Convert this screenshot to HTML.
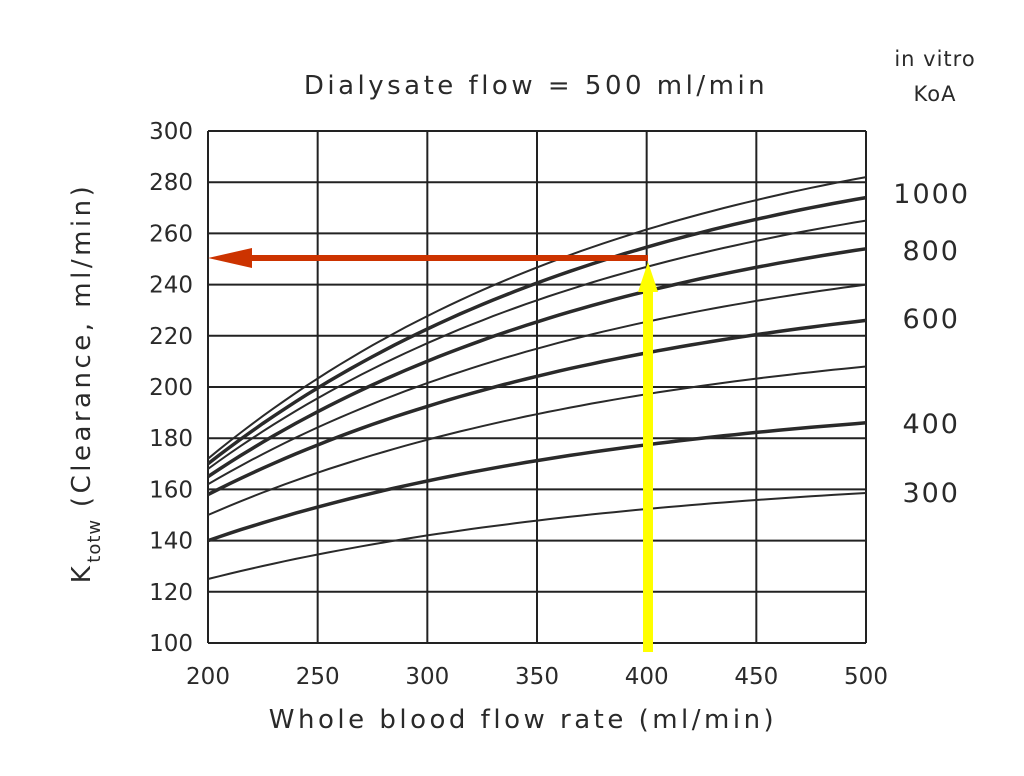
<!DOCTYPE html>
<html><head><meta charset="utf-8"><style>
html,body{margin:0;padding:0;background:#fff;}
svg text{font-family:"DejaVu Sans","Liberation Sans",sans-serif;fill:#2a2a2a;}
</style></head><body>
<svg id="s" width="1024" height="771" xmlns="http://www.w3.org/2000/svg">
<rect width="1024" height="771" fill="#fff"/>
<g id="grid" stroke="#222" stroke-width="2" fill="none"></g>
<g id="curves" stroke="#2a2a2a" fill="none"></g>
<g font-size="23" text-anchor="end" id="yl"></g>
<g font-size="23" text-anchor="middle" id="xl"></g>
<text x="536" y="94" font-size="26" text-anchor="middle" letter-spacing="3.5">Dialysate flow = 500 ml/min</text>
<text x="935" y="66" font-size="21" text-anchor="middle" letter-spacing="1">in vitro</text>
<text x="935" y="101" font-size="21" text-anchor="middle" letter-spacing="1">KoA</text>
<g font-size="27" text-anchor="end" letter-spacing="2">
<text x="970" y="203">1000</text>
<text x="960" y="260">800</text>
<text x="960" y="328">600</text>
<text x="960" y="433">400</text>
<text x="960" y="502">300</text>
</g>
<text x="523" y="728" font-size="26" text-anchor="middle" letter-spacing="3.5">Whole blood flow rate (ml/min)</text>
<g transform="translate(90,383) rotate(-90)">
<text x="0" y="0" font-size="26" text-anchor="middle" letter-spacing="3.5">K<tspan font-size="18" dy="10" letter-spacing="1">totw</tspan><tspan dy="-10"> (Clearance, ml/min)</tspan></text>
</g>
<line x1="648" y1="258" x2="236" y2="258" stroke="#cc3300" stroke-width="6"/>
<polygon points="208,258 252,248 252,268" fill="#cc3300"/>
<line x1="648" y1="652" x2="648" y2="290" stroke="#ffff00" stroke-width="10"/>
<polygon points="648,262 638,292 658,292" fill="#ffff00"/>
</svg>
<script>
var ns="http://www.w3.org/2000/svg";
function px(x){return 208+(x-200)*658/300;}
function py(v){return 643-(v-100)*2.56;}
function el(p,t,a,txt){var e=document.createElementNS(ns,t);for(var k in a)e.setAttribute(k,a[k]);if(txt)e.textContent=txt;p.appendChild(e);return e;}
var g=document.getElementById('grid');
for(var v=100;v<=300;v+=20)el(g,'line',{x1:208,x2:866,y1:py(v),y2:py(v)});
for(var x=200;x<=500;x+=50)el(g,'line',{x1:px(x),x2:px(x),y1:131,y2:643});
var yl=document.getElementById('yl');
for(var v=100;v<=300;v+=20)el(yl,'text',{x:193,y:py(v)+8},String(v));
var xl=document.getElementById('xl');
for(var x=200;x<=500;x+=50)el(xl,'text',{x:px(x),y:684},String(x));
var cs=[[125,158.6,2],[140,186,3.5],[150,208,2],[158,226,3.5],[162,240,2],[165,254,3.5],[168,265,2],[170,274,3.5],[172,282,2]];
var c=document.getElementById('curves');var k=1.5;
cs.forEach(function(q){var d='';for(var i=0;i<=60;i++){var t=i/60;var v=q[0]+(q[1]-q[0])*(1-Math.exp(-k*t))/(1-Math.exp(-k));d+=(i?'L':'M')+px(200+300*t).toFixed(1)+','+py(v).toFixed(1);}el(c,'path',{d:d,'stroke-width':q[2]});});
</script>
</body></html>
